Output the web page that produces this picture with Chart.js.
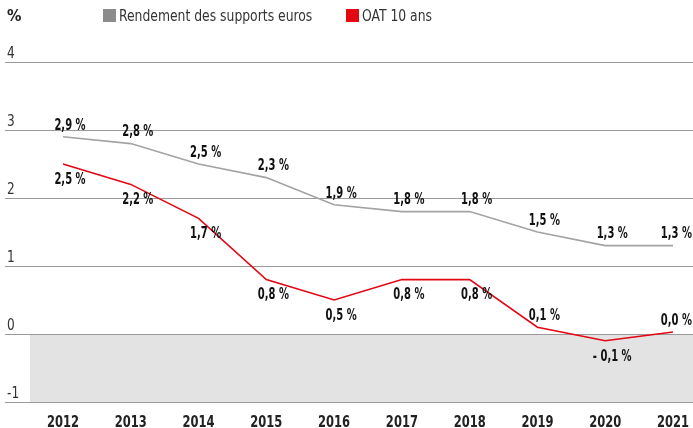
<!DOCTYPE html>
<html>
<head>
<meta charset="utf-8">
<script src="https://cdn.jsdelivr.net/npm/chart.js@4/dist/chart.umd.min.js"></script>
<style>
  html, body { margin: 0; padding: 0; background: #fff; }
  #wrap { position: relative; width: 693px; height: 428px; font-family: "DejaVu Sans Condensed", sans-serif; }
  #unit { position: absolute; left: 7px; top: 6px; font-size: 16px; font-weight: bold; color: #222; }
  .leg { position: absolute; top: 6px; font-size: 16px; color: #333; white-space: nowrap; }
  .leg i { display: inline-block; width: 13px; height: 13px; margin-right: 3px; vertical-align: -1px; }
  .leg span { display: inline-block; transform: scaleX(0.86); transform-origin: left center; }
</style>
</head>
<body>
<div id="wrap">
  <canvas id="c" width="693" height="428"></canvas>
  <div id="unit">%</div>
  <div class="leg" style="left:103px"><i style="background:#8c8c8c"></i><span>Rendement des supports euros</span></div>
  <div class="leg" style="left:346px"><i style="background:#e30613"></i><span>OAT 10 ans</span></div>
</div>
<script>
const years = ['2012', '2013', '2014', '2015', '2016', '2017', '2018', '2019', '2020', '2021'];
const fondsEuros = [2.9, 2.8, 2.5, 2.3, 1.9, 1.8, 1.8, 1.5, 1.3, 1.3];
const oat10 = [2.5, 2.2, 1.7, 0.8, 0.5, 0.8, 0.8, 0.1, -0.1, 0.03];
const yTicks = [4, 3, 2, 1, 0, -1];
// where each red label sits: 1 = above point, -1 = below
const oatLabelSide = [-1, -1, -1, -1, -1, -1, -1, 1, -1, 1];

const FONT = '"DejaVu Sans Condensed", sans-serif';

function fmt(v) {
  const s = Math.abs(v).toFixed(1).replace('.', ',');
  return (v < -0.001 ? '- ' : '') + s + ' %';
}

// condensed text helper
function narrowText(ctx, txt, x, y, sx) {
  ctx.save();
  ctx.translate(x, y);
  ctx.scale(sx, 1);
  ctx.fillText(txt, 0, 0);
  ctx.restore();
}

const backdrop = {
  id: 'backdrop',
  beforeDraw(chart) {
    const ctx = chart.ctx, y = chart.scales.y, x = chart.scales.x, W = chart.width;
    ctx.save();
    ctx.fillStyle = '#e3e3e3';
    ctx.fillRect(30, y.getPixelForValue(0), W - 30, y.getPixelForValue(-1) - y.getPixelForValue(0));
    ctx.strokeStyle = '#9a9a9a';
    ctx.lineWidth = 1;
    ctx.font = '15px ' + FONT;
    ctx.fillStyle = '#333';
    ctx.textBaseline = 'alphabetic';
    ctx.textAlign = 'left';
    yTicks.forEach(t => {
      const py = Math.round(y.getPixelForValue(t)) + 0.5;
      ctx.beginPath(); ctx.moveTo(5, py); ctx.lineTo(W, py); ctx.stroke();
      narrowText(ctx, String(t), 7, py - 5, 0.9);
    });
    // year labels
    ctx.font = 'bold 16px ' + FONT;
    ctx.fillStyle = '#222';
    ctx.textAlign = 'center';
    years.forEach((yr, i) => {
      narrowText(ctx, yr, x.getPixelForValue(i), 427, 0.8);
    });
    ctx.restore();
  }
};

const valueLabels = {
  id: 'valueLabels',
  afterDatasetsDraw(chart) {
    const ctx = chart.ctx;
    ctx.save();
    ctx.font = 'bold 15px ' + FONT;
    ctx.fillStyle = '#111';
    ctx.textBaseline = 'middle';
    chart.data.datasets.forEach((ds, di) => {
      chart.getDatasetMeta(di).data.forEach((pt, i) => {
        const side = di === 0 ? 1 : oatLabelSide[i];
        const dy = side > 0 ? -11 : 16;
        let x = pt.x + 7;
        ctx.textAlign = 'center';
        if (i === years.length - 1) { ctx.textAlign = 'right'; x = chart.width - 1; }
        narrowText(ctx, fmt(ds.data[i]), x, pt.y + dy, 0.74);
      });
    });
    ctx.restore();
  }
};

new Chart(document.getElementById('c'), {
  type: 'line',
  data: {
    labels: years,
    datasets: [
      { label: 'Rendement des supports euros', data: fondsEuros, borderColor: '#a3a3a3', borderWidth: 1.6, pointRadius: 0, tension: 0 },
      { label: 'OAT 10 ans', data: oat10, borderColor: '#e30613', borderWidth: 1.6, pointRadius: 0, tension: 0 }
    ]
  },
  options: {
    responsive: false,
    animation: false,
    layout: { padding: { left: 63, right: 20, top: 62, bottom: 26 } },
    plugins: { legend: { display: false }, tooltip: { enabled: false } },
    scales: {
      x: { display: false, offset: false },
      y: { display: false, min: -1, max: 4 }
    }
  },
  plugins: [backdrop, valueLabels]
});
</script>
</body>
</html>
